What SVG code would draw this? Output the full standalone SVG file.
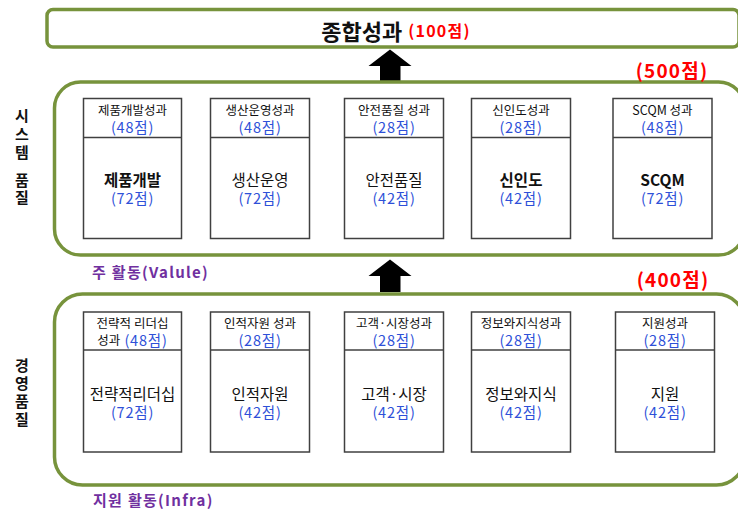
<svg xmlns="http://www.w3.org/2000/svg" width="738" height="510" viewBox="0 0 738 510">
<style>
text{font-family:"Noto Sans CJK KR","Noto Sans",sans-serif;dominant-baseline:central;text-anchor:middle;}
.frame{fill:#fff;stroke:#77933C;stroke-width:3.5;}
.box{fill:#fff;stroke:#404040;stroke-width:1.5;}
.div{stroke:#404040;stroke-width:1.5;}
.hd{font-size:12.5px;fill:#111;}
.sc{font-size:14.5px;fill:#2E50D8;letter-spacing:0.8px;}
.mn{font-size:15.5px;fill:#111;}
.b{font-weight:bold;}
.red{fill:#FF0000;font-weight:bold;letter-spacing:1.2px;}
.pur{fill:#7030A0;font-weight:bold;font-size:15px;text-anchor:start;letter-spacing:1.3px;}
.vl{font-size:15px;font-weight:bold;fill:#111;}
.arrow{fill:#000;}
</style>
<rect width="738" height="510" fill="#fff"/>

<g id="total">
<rect class="frame" x="47" y="9.5" width="692" height="37.5" rx="6"/>
<text x="396" y="30"><tspan font-size="22" font-weight="bold" fill="#111">종합성과</tspan><tspan class="red" font-size="16" dx="6">(100점)</tspan></text>
</g>

<g id="connectors">
<polygon class="arrow" points="390,49.5 411.5,66 400.5,66 400.5,81 380,81 380,66 368.5,66"/>
<polygon class="arrow" points="390,259.5 411.5,276 400.5,276 400.5,292 380,292 380,276 368.5,276"/>
</g>

<g id="system">
<rect class="frame" x="54.5" y="82" width="690" height="173" rx="26"/>
<text class="red" x="672" y="69" font-size="19">(500점)</text>
<text class="vl" x="22" y="114">시<tspan x="22" dy="19">스</tspan><tspan x="22" dy="18">템</tspan><tspan x="22" dy="28">품</tspan><tspan x="22" dy="17">질</tspan></text>
<text class="pur" x="92" y="271">주 활동(Valule)</text>
</g>

<g id="s1">
<rect class="box" x="83.5" y="98.5" width="98" height="140"/>
<line class="div" x1="83.5" y1="137.5" x2="181.5" y2="137.5"/>
<text x="132.5" y="109"><tspan class="hd">제품개발성과</tspan><tspan class="sc" x="132.5" dy="17">(48점)</tspan></text>
<text x="132.5" y="179"><tspan class="mn b">제품개발</tspan><tspan class="sc" x="132.5" dy="18">(72점)</tspan></text>
</g>
<g id="s2">
<rect class="box" x="210.5" y="98.5" width="99" height="140"/>
<line class="div" x1="210.5" y1="137.5" x2="309.5" y2="137.5"/>
<text x="260" y="109"><tspan class="hd">생산운영성과</tspan><tspan class="sc" x="260" dy="17">(48점)</tspan></text>
<text x="260" y="179"><tspan class="mn">생산운영</tspan><tspan class="sc" x="260" dy="18">(72점)</tspan></text>
</g>
<g id="s3">
<rect class="box" x="344.5" y="98.5" width="99" height="140"/>
<line class="div" x1="344.5" y1="137.5" x2="443.5" y2="137.5"/>
<text x="394" y="109"><tspan class="hd">안전품질 성과</tspan><tspan class="sc" x="394" dy="17">(28점)</tspan></text>
<text x="394" y="179"><tspan class="mn">안전품질</tspan><tspan class="sc" x="394" dy="18">(42점)</tspan></text>
</g>
<g id="s4">
<rect class="box" x="471.5" y="98.5" width="99" height="140"/>
<line class="div" x1="471.5" y1="137.5" x2="570.5" y2="137.5"/>
<text x="521" y="109"><tspan class="hd">신인도성과</tspan><tspan class="sc" x="521" dy="17">(28점)</tspan></text>
<text x="521" y="179"><tspan class="mn b">신인도</tspan><tspan class="sc" x="521" dy="18">(42점)</tspan></text>
</g>
<g id="s5">
<rect class="box" x="613" y="98.5" width="99" height="140"/>
<line class="div" x1="613" y1="137.5" x2="712" y2="137.5"/>
<text x="662.5" y="109"><tspan class="hd">SCQM 성과</tspan><tspan class="sc" x="662.5" dy="17">(48점)</tspan></text>
<text x="662.5" y="179"><tspan class="mn b">SCQM</tspan><tspan class="sc" x="662.5" dy="18">(72점)</tspan></text>
</g>

<g id="management">
<rect class="frame" x="54.5" y="294" width="690" height="191" rx="28"/>
<text class="red" x="673" y="278" font-size="19">(400점)</text>
<text class="vl" x="22" y="364">경<tspan x="22" dy="18">영</tspan><tspan x="22" dy="18">품</tspan><tspan x="22" dy="18">질</tspan></text>
<text class="pur" x="93" y="499">지원 활동(Infra)</text>
</g>

<g id="m1">
<rect class="box" x="83.5" y="312" width="98" height="140"/>
<line class="div" x1="83.5" y1="350" x2="181.5" y2="350"/>
<text x="132.5" y="322"><tspan class="hd">전략적 리더십</tspan><tspan class="hd" x="132.5" dy="17">성과</tspan><tspan class="sc" dx="4">(48점)</tspan></text>
<text x="132.5" y="393"><tspan class="mn">전략적리더십</tspan><tspan class="sc" x="132.5" dy="18">(72점)</tspan></text>
</g>
<g id="m2">
<rect class="box" x="210.5" y="312" width="99" height="140"/>
<line class="div" x1="210.5" y1="350" x2="309.5" y2="350"/>
<text x="260" y="322"><tspan class="hd">인적자원 성과</tspan><tspan class="sc" x="260" dy="17">(28점)</tspan></text>
<text x="260" y="393"><tspan class="mn">인적자원</tspan><tspan class="sc" x="260" dy="18">(42점)</tspan></text>
</g>
<g id="m3">
<rect class="box" x="344.5" y="312" width="99" height="140"/>
<line class="div" x1="344.5" y1="350" x2="443.5" y2="350"/>
<text x="394" y="322"><tspan class="hd">고객·시장성과</tspan><tspan class="sc" x="394" dy="17">(28점)</tspan></text>
<text x="394" y="393"><tspan class="mn">고객·시장</tspan><tspan class="sc" x="394" dy="18">(42점)</tspan></text>
</g>
<g id="m4">
<rect class="box" x="471.5" y="312" width="99" height="140"/>
<line class="div" x1="471.5" y1="350" x2="570.5" y2="350"/>
<text x="521" y="322"><tspan class="hd">정보와지식성과</tspan><tspan class="sc" x="521" dy="17">(28점)</tspan></text>
<text x="521" y="393"><tspan class="mn">정보와지식</tspan><tspan class="sc" x="521" dy="18">(42점)</tspan></text>
</g>
<g id="m5">
<rect class="box" x="615.5" y="312" width="99" height="140"/>
<line class="div" x1="615.5" y1="350" x2="714.5" y2="350"/>
<text x="665" y="322"><tspan class="hd">지원성과</tspan><tspan class="sc" x="665" dy="17">(28점)</tspan></text>
<text x="665" y="393"><tspan class="mn">지원</tspan><tspan class="sc" x="665" dy="18">(42점)</tspan></text>
</g>
</svg>
